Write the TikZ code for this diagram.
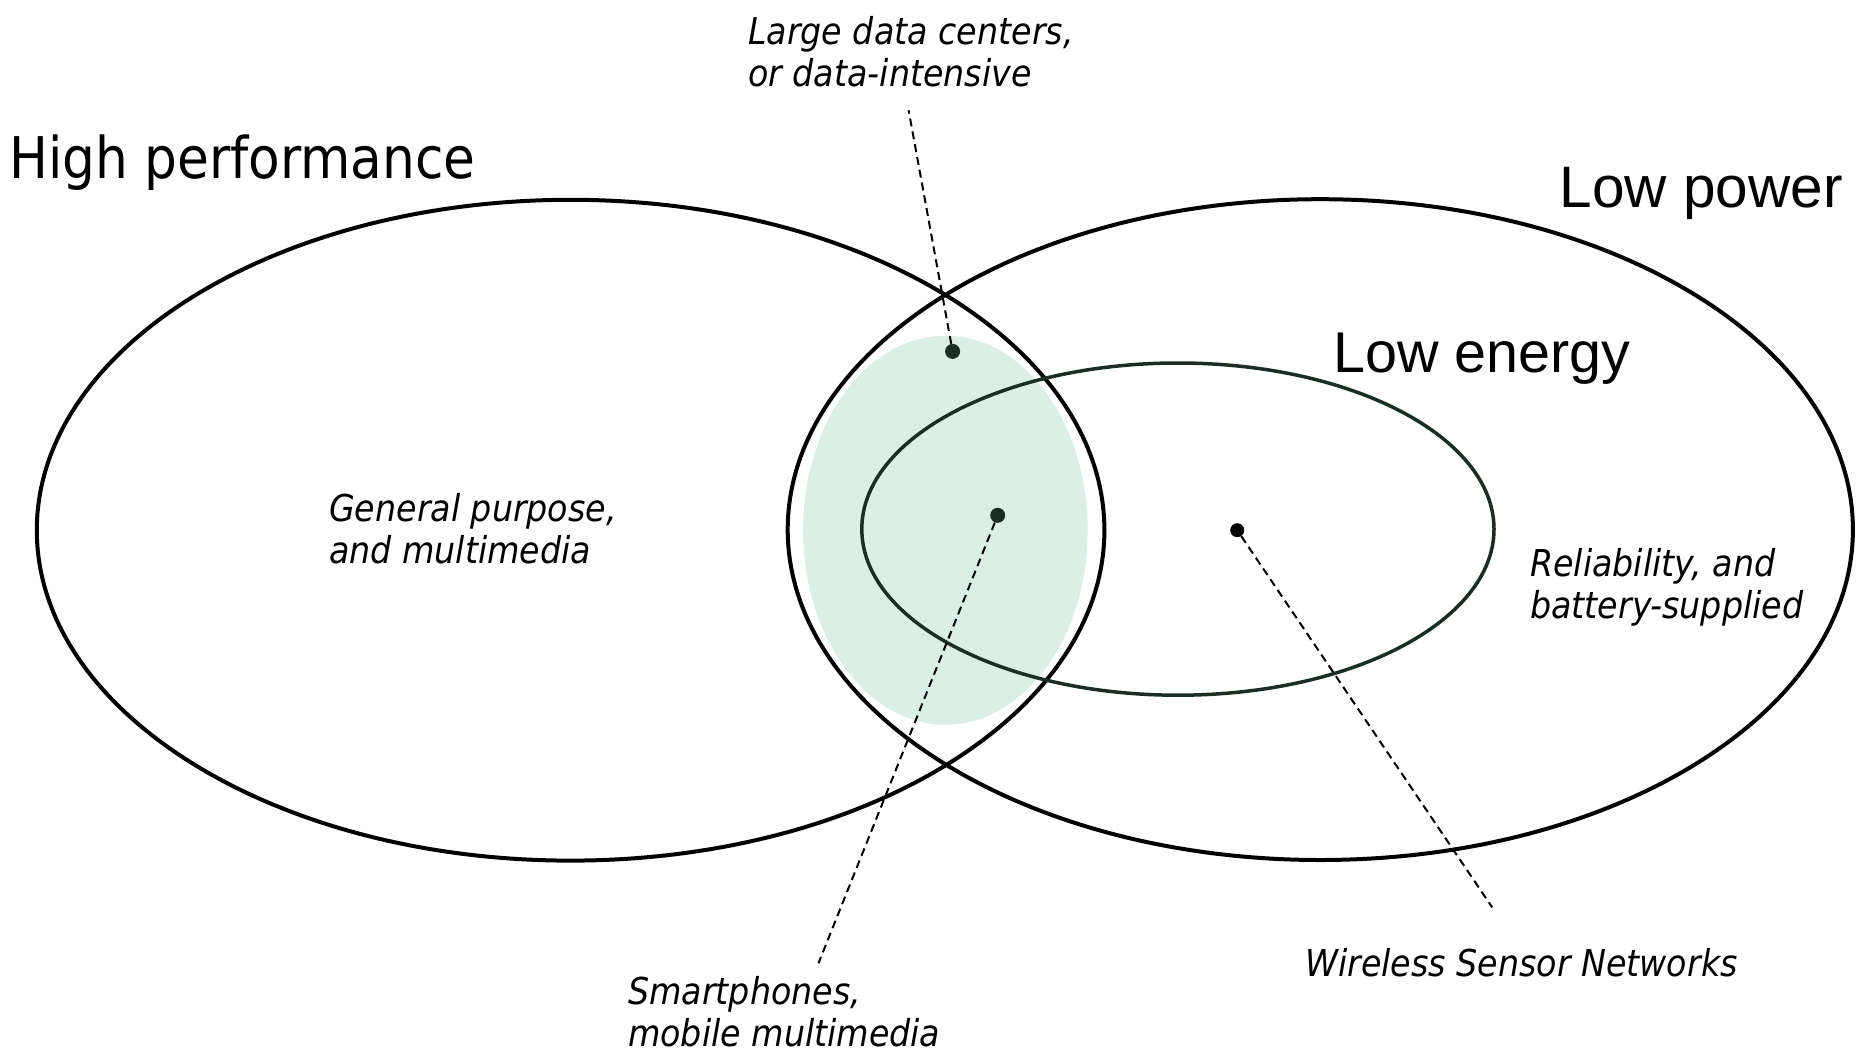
\documentclass[tikz,border=0pt]{standalone}
\usepackage{fontspec}
\setmainfont{DejaVu Sans Condensed}
\newfontfamily\arialfont{Liberation Sans}
\usetikzlibrary{shapes.geometric}
\definecolor{mint}{RGB}{218,240,230}
\definecolor{darkgr}{RGB}{27,46,36}
\tikzset{
  ring/.style={draw=black, line width=4pt, ellipse, inner sep=0pt, fill=none},
  innerring/.style={draw=darkgr, line width=3.5pt, ellipse, inner sep=0pt},
  dot/.style={circle, fill=darkgr, inner sep=0pt, minimum size=15pt},
  leader/.style={draw=black, line width=2pt, dash pattern=on 8pt off 5pt},
  bigtxt/.style={anchor=base west, inner sep=0pt, font=\fontsize{57.5}{66}\selectfont},
  arialtxt/.style={anchor=base west, inner sep=0pt, font=\fontsize{57.5}{66}\selectfont\arialfont},
  smtxt/.style={anchor=base west, inner sep=0pt, align=left, font=\fontsize{37}{41.5}\selectfont\itshape},
}
\begin{document}
\begin{tikzpicture}[x=1pt, y=-1pt]
\useasboundingbox (0,0) rectangle (1860,1055);
\fill[white] (0,0) rectangle (1860,1055);
% green highlight
\node[ellipse, fill=mint, minimum width=284.6pt, minimum height=389pt, inner sep=0pt] (hl) at (945.4,530.2) {};
% sets
\node[ring, minimum width=1067.6pt, minimum height=660.8pt] (hp) at (570.6,530.2) {};
\node[ring, minimum width=1065.2pt, minimum height=660.8pt] (lp) at (1320.3,529.6) {};
\node[innerring, minimum width=632.2pt, minimum height=332.2pt] (le) at (1177.9,529.1) {};
% dots
\node[dot] (d1) at (952.6,351.4) {};
\node[dot] (d2) at (997.7,515.3) {};
\node[dot, fill=black, minimum size=14pt] (d3) at (1237.2,530.2) {};
% leader ends
\coordinate (e1) at (908.6,110.3);
\coordinate (e2) at (818.5,963.2);
\coordinate (e3) at (1492.3,907.5);
\draw[leader] (d1) -- (e1);
\draw[leader] (d2) -- (e2);
\draw[leader] (d3) -- (e3);
% titles
\node[bigtxt] (t1) at (9,178) {High performance};
\node[arialtxt, anchor=base east, font=\fontsize{58.5}{66}\selectfont\arialfont] (t2) at (1843,207) {Low power};
\node[arialtxt] (t3) at (1333,372) {Low energy};
% labels (anchored at the baseline of the last line)
\node[smtxt] (l1) at (748,86) {Large data centers,\\or data-intensive};
\node[smtxt] (l2) at (329,563) {General purpose,\\and multimedia};
\node[smtxt] (l3) at (1530,618) {Reliability, and\\battery-supplied};
\node[smtxt] (l4) at (628,1046) {Smartphones,\\mobile multimedia};
\node[smtxt] (l5) at (1305,976) {Wireless Sensor Networks};
\end{tikzpicture}
\end{document}
